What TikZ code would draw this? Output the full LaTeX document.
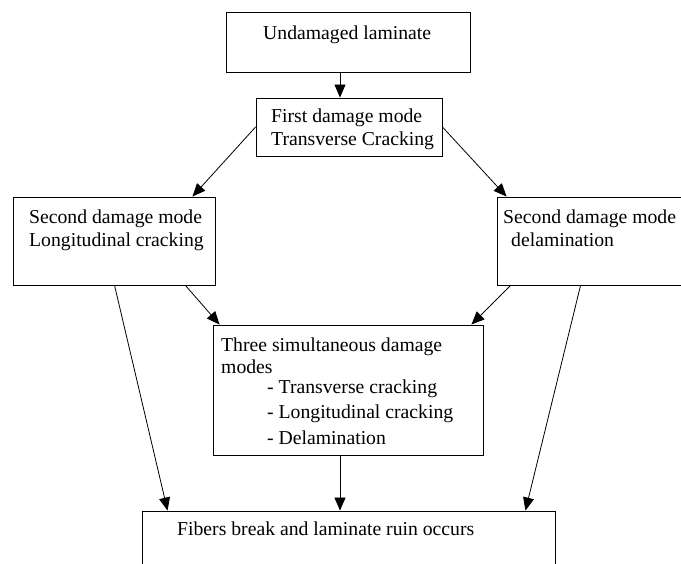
\documentclass[tikz,border=0pt]{standalone}
\usepackage{fontspec}
\setmainfont{Liberation Serif}
\usepackage{tikz}
\usetikzlibrary{arrows.meta}

\begin{document}
\begin{tikzpicture}[x=1pt,y=-1pt,
    box/.style={draw,line width=0.9pt,inner sep=0pt},
    txt/.style={anchor=base west,inner sep=0pt,font=\fontsize{19.7}{23}\selectfont},
    arr/.style={line width=0.8pt,-{Triangle[length=13pt,width=11pt]}}]
      \clip (0,0) rectangle (681,564);
      \node[box,minimum width=244pt,minimum height=60pt] (b1) at (348,42) {};
      \node[box,minimum width=186pt,minimum height=58pt] (b2) at (349,127) {};
      \node[box,minimum width=202pt,minimum height=88pt] (b3) at (114,241) {};
      \node[box,minimum width=203pt,minimum height=88pt] (b4) at (598.5,241) {};
      \node[box,minimum width=270pt,minimum height=130pt] (b5) at (348,390) {};
      \node[box,minimum width=413pt,minimum height=69pt] (b6) at (348.5,545.5) {};
      \node[txt] (t1) at (263,40) {Undamaged laminate};
      \node[txt] (t2a) at (271,123) {First damage mode};
      \node[txt] (t2b) at (271,146) {Transverse Cracking};
      \node[txt] (t3a) at (29,224) {Second damage mode};
      \node[txt] (t3b) at (29,247) {Longitudinal cracking};
      \node[txt] (t4a) at (503,224) {Second damage mode};
      \node[txt] (t4b) at (511,247) {delamination};
      \node[txt] (t5a) at (221,352) {Three simultaneous damage};
      \node[txt] (t5b) at (221,374) {modes};
      \node[txt] (t5c) at (267,394) {- Transverse cracking};
      \node[txt] (t5d) at (267,419) {- Longitudinal cracking};
      \node[txt] (t5e) at (267,444) {- Delamination};
      \node[txt] (t6) at (177,535) {Fibers break and laminate ruin occurs};
      \draw[arr] ([xshift=-8pt]b1.south) -- ([xshift=-8pt]b1.south |- b2.north);
      \draw[arr] (b2.west) -- ([xshift=-23pt]b3.north east);
      \draw[arr] (b2.east) -- ([xshift=10pt]b4.north west);
      \draw[arr] ([xshift=-30pt]b3.south east) -- ([xshift=7pt]b5.north west);
      \draw[arr] ([xshift=14pt]b4.south west) -- ([xshift=-12pt]b5.north east);
      \draw[arr] ([xshift=102pt]b3.south west) -- ([xshift=26pt]b6.north west);
      \draw[arr] ([xshift=84pt]b4.south west) -- ([xshift=-30pt]b6.north east);
      \draw[arr] ([xshift=-8pt]b5.south) -- ([xshift=-8pt]b5.south |- b6.north);
    \end{tikzpicture}
\end{document}
